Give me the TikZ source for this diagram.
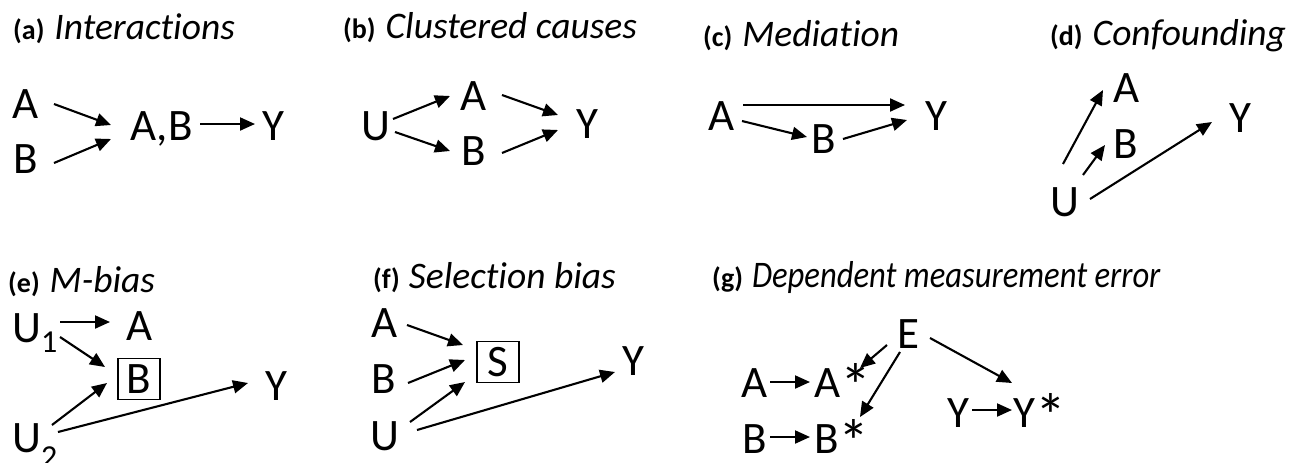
\documentclass[tikz,border=0pt]{standalone}
\usepackage{graphicx}
\usepackage{fontspec}
\setmainfont{Carlito}[Ligatures={NoCommon,NoContextual}]
\usetikzlibrary{arrows.meta,calc}
\tikzset{
  arr/.style={line width=2.1pt, -{Triangle[length=15pt,width=13pt]}},
  v/.style={inner sep=0pt, font=\fontsize{45}{54}\selectfont},
  vb/.style={v, anchor=base},
  vw/.style={v, anchor=base west},
  boxed/.style={v, draw, line width=1.5pt, minimum width=42pt, minimum height=41pt},
  ttl/.style={inner sep=0pt, anchor=base west}
}
\newcommand{\lblx}[1]{{\fontsize{28}{34}\selectfont\bfseries #1}}
\newcommand{\ttlx}[1]{{\fontsize{37.5}{43}\selectfont\itshape #1}}
\newcommand{\astx}{\raisebox{-10pt}{\fontsize{62}{66}\selectfont *}}
\begin{document}
\begin{tikzpicture}[x=1pt,y=-1pt]
\useasboundingbox (0,0) rectangle (1296,463);
% (a)
\node[ttl] (aT) at (13,39) {\lblx{(a)}\hspace{10pt}\ttlx{Interactions}};
\node[vb] (aA) at (25.5,118) {A};
\node[vb] (aB) at (25.5,173) {B};
\node[vb] (aAB) at (161.5,140) {A,B};
\node[vb] (aY) at (273.5,140) {Y};
\draw[arr] ($(aA.base)+(28.5,-14)$) -- ($(aAB.base)+(-50.5,-15)$);
\draw[arr] ($(aB.base)+(28.5,-10)$) -- ($(aAB.base)+(-50.5,-1)$);
\draw[arr] ($(aAB.base)+(38.5,-16)$) -- ($(aY.base)+(-18.5,-16)$);
% (b)
\node[ttl] (bT) at (343,38) {\lblx{(b)}\hspace{10pt}\ttlx{Clustered causes}};
\node[vb] (bU) at (376,140) {U};
\node[vb] (bA) at (473.5,110) {A};
\node[vb] (bB) at (474,165) {B};
\node[vb] (bY) at (587.5,138) {Y};
\draw[arr] ($(bU.base)+(17,-21)$) -- ($(bA.base)+(-23.5,-14)$);
\draw[arr] ($(bU.base)+(19,-8)$) -- ($(bB.base)+(-24,-14)$);
\draw[arr] ($(bA.base)+(28.5,-15)$) -- ($(bY.base)+(-29.5,-23)$);
\draw[arr] ($(bB.base)+(28,-12)$) -- ($(bY.base)+(-29.5,-8)$);
% (c)
\node[ttl] (cT) at (703,46) {\lblx{(c)}\hspace{10pt}\ttlx{Mediation}};
\node[vb] (cA) at (721.5,130) {A};
\node[vb] (cB) at (824,153) {B};
\node[vb] (cY) at (936.5,130) {Y};
\draw[arr] ($(cA.base)+(21.5,-25)$) -- ($(cY.base)+(-31.5,-25)$);
\draw[arr] ($(cA.base)+(20.5,-9)$) -- ($(cB.base)+(-17,-16)$);
\draw[arr] ($(cB.base)+(19,-14)$) -- ($(cY.base)+(-29.5,-10)$);
% (d)
\node[ttl] (dT) at (1050,45) {\lblx{(d)}\hspace{10pt}\ttlx{Confounding}};
\node[vb] (dA) at (1126.5,102) {A};
\node[vb] (dB) at (1126,158) {B};
\node[vb] (dY) at (1240.5,132) {Y};
\node[vb] (dU) at (1064.5,216) {U};
\draw[arr] ($(dU.base)+(-1.5,-52)$) -- ($(dA.base)+(-23.5,-12)$);
\draw[arr] ($(dU.base)+(18.5,-41)$) -- ($(dB.base)+(-21,-13)$);
\draw[arr] ($(dU.base)+(25.5,-17)$) -- ($(dY.base)+(-28.5,-10)$);
% (e)
\node[ttl] (eT) at (8,292) {\lblx{(e)}\hspace{10pt}\ttlx{M-bias}};
\node[vw] (eU1) at (12,342) {U\raisebox{-10pt}{\fontsize{32}{38}\selectfont 1}};
\node[vb] (eA) at (139.5,340) {A};
\node[boxed] (eB) at (139,379) {B};
\node[vb] (eY) at (276.5,400) {Y};
\node[vw] (eU2) at (12,452) {U\raisebox{-15pt}{\fontsize{32}{38}\selectfont 2}};
\draw[arr] ($(eU1.base west)+(48,-20)$) -- ($(eA.base)+(-29.5,-18)$);
\draw[arr] ($(eU1.base west)+(48,-5)$) -- ($(eB.center)+(-34,-12)$);
\draw[arr] ($(eU2.base west)+(40,-27)$) -- ($(eB.center)+(-32,4)$);
\draw[arr] ($(eU2.base west)+(46,-20)$) -- ($(eY.base)+(-28.5,-17)$);
% (f)
\node[ttl] (fT) at (373,288) {\lblx{(f)}\hspace{9pt}\ttlx{Selection bias}};
\node[vb] (fA) at (384.5,337) {A};
\node[vb] (fB) at (384,393) {B};
\node[vb] (fU) at (385,450) {U};
\node[boxed] (fS) at (498,362) {S};
\node[vb] (fY) at (633.5,375) {Y};
\draw[arr] ($(fA.base)+(22.5,-12)$) -- ($(fS.center)+(-35,-17)$);
\draw[arr] ($(fB.base)+(24,-10)$) -- ($(fS.center)+(-33,-2)$);
\draw[arr] ($(fU.base)+(25,-28)$) -- ($(fS.center)+(-33,20)$);
\draw[arr] ($(fU.base)+(32,-20)$) -- ($(fY.base)+(-18.5,-3)$);
% (g)
\node[ttl] (gT) at (712,287) {\lblx{(g)}\hspace{9pt}\scalebox{0.87}[1]{\ttlx{Dependent measurement error}}};
\node[vb] (gE) at (908.5,348) {E};
\node[vb] (gA) at (755,397) {A};
\node[vw] (gAs) at (814,397) {A\astx};
\node[vb] (gB) at (755,453) {B};
\node[vw] (gBs) at (814,453) {B\astx};
\node[vb] (gY) at (958.5,427) {Y};
\node[vw] (gYs) at (1013,427) {Y\astx};
\draw[arr] ($(gA.base)+(15,-15)$) -- ($(gAs.base west)+(-4,-15)$);
\draw[arr] ($(gB.base)+(15,-16)$) -- ($(gBs.base west)+(-4,-16)$);
\draw[arr] ($(gY.base)+(13.5,-17)$) -- ($(gYs.base west)+(-1,-17)$);
\draw[arr] ($(gE.base)+(-21.5,-3)$) -- ($(gAs.base west)+(46,-29)$);
\draw[arr] ($(gE.base)+(-8.5,4)$) -- ($(gBs.base west)+(46,-36)$);
\draw[arr] ($(gE.base)+(21.5,-10)$) -- ($(gYs.base west)+(-1,-44)$);
\end{tikzpicture}
\end{document}
